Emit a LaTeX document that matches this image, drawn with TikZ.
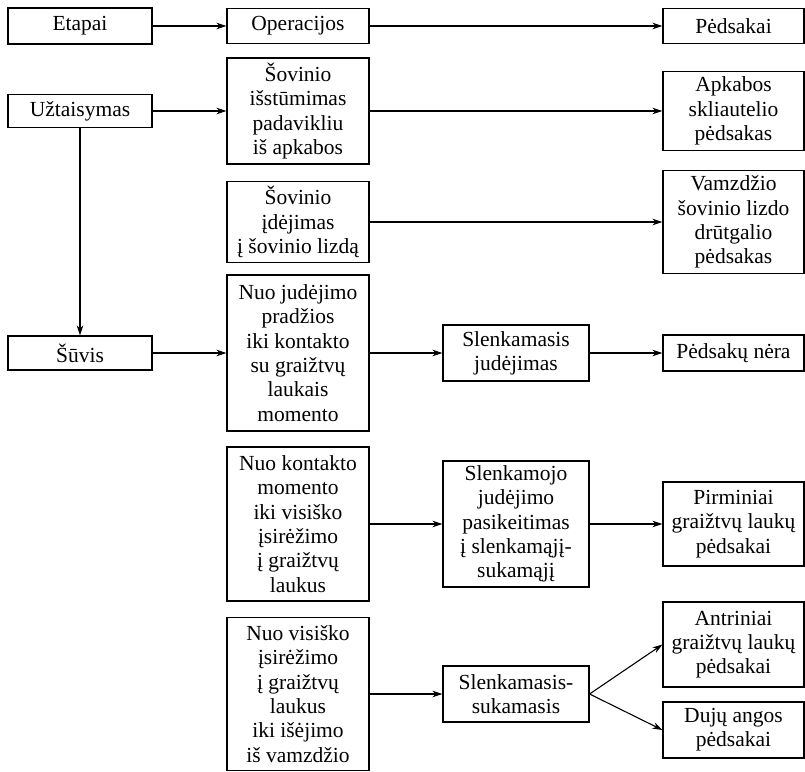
\documentclass[tikz,border=0pt]{standalone}
\usepackage{fontspec}
\setmainfont{Liberation Serif}
\usetikzlibrary{arrows.meta}
\begin{document}
\begin{tikzpicture}[x=1pt,y=-1pt,
  font=\fontsize{21.5}{24.3}\selectfont,
  box/.style={draw,line width=1.1pt,align=center,inner sep=0pt,minimum height=#1},
  c1/.style={box=#1,minimum width=144pt},
  c2/.style={box=#1,minimum width=142pt},
  c3/.style={box=#1,minimum width=146pt},
  c4/.style={box=#1,minimum width=141pt},
  arr/.style={line width=1.1pt,-{Stealth[length=10pt,width=6.5pt]}}]
\useasboundingbox (0,0) rectangle (805,771);
% column 1
\node[c1=36pt] (etapai) at (80,26) {Etapai};
\node[c1=33pt] (uzt) at (80,111) {Užtaisymas};
\node[c1=34pt] (suvis) at (80,353) {Šūvis};
% column 2
\node[c2=35pt] (oper) at (298,26) {Operacijos};
\node[c2=106pt] (isst) at (298,111) {Šovinio\\išstūmimas\\padavikliu\\iš apkabos};
\node[c2=81pt] (idej) at (298,222) {Šovinio\\įdėjimas\\į šovinio lizdą};
\node[c2=156pt] (nj) at (298,353) {Nuo judėjimo\\pradžios\\iki kontakto\\su graižtvų\\laukais\\momento};
\node[c2=154pt] (nk) at (298,524) {Nuo kontakto\\momento\\iki visiško\\įsirėžimo\\į graižtvų\\laukus};
\node[c2=153pt] (nv) at (298,694) {Nuo visiško\\įsirėžimo\\į graižtvų\\laukus\\iki išėjimo\\iš vamzdžio};
% column 3
\node[c3=56pt] (slj) at (516,353) {Slenkamasis\\judėjimas};
\node[c3=126pt] (slpk) at (516,524) {Slenkamojo\\judėjimo\\pasikeitimas\\į slenkamąjį-\\sukamąjį};
\node[c3=56pt] (sls) at (516,694) {Slenkamasis-\\sukamasis};
% column 4
\node[c4=35pt] (peds) at (733.5,26) {Pėdsakai};
\node[c4=79pt] (apk) at (733.5,111) {Apkabos\\skliautelio\\pėdsakas};
\node[c4=103pt] (vamz) at (733.5,222) {Vamzdžio\\šovinio lizdo\\drūtgalio\\pėdsakas};
\node[c4=36pt] (nera) at (733.5,353) {Pėdsakų nėra};
\node[c4=84pt] (pirm) at (733.5,524) {Pirminiai\\graižtvų laukų\\pėdsakai};
\node[c4=85pt] (antr) at (733.5,644.5) {Antriniai\\graižtvų laukų\\pėdsakai};
\node[c4=56pt] (duju) at (733.5,730) {Dujų angos\\pėdsakai};
% connectors
\draw[arr] (etapai) -- (oper);
\draw[arr] (oper) -- (peds);
\draw[arr] (uzt) -- (isst);
\draw[arr] (isst) -- (apk);
\draw[arr] (idej) -- (vamz);
\draw[arr] (uzt) -- (suvis);
\draw[arr] (suvis) -- (nj);
\draw[arr] (nj) -- (slj);
\draw[arr] (slj) -- (nera);
\draw[arr] (nk) -- (slpk);
\draw[arr] (slpk) -- (pirm);
\draw[arr] (nv) -- (sls);
\draw[arr] (sls.east) -- (antr.west);
\draw[arr] (sls.east) -- (duju.west);
\end{tikzpicture}
\end{document}
